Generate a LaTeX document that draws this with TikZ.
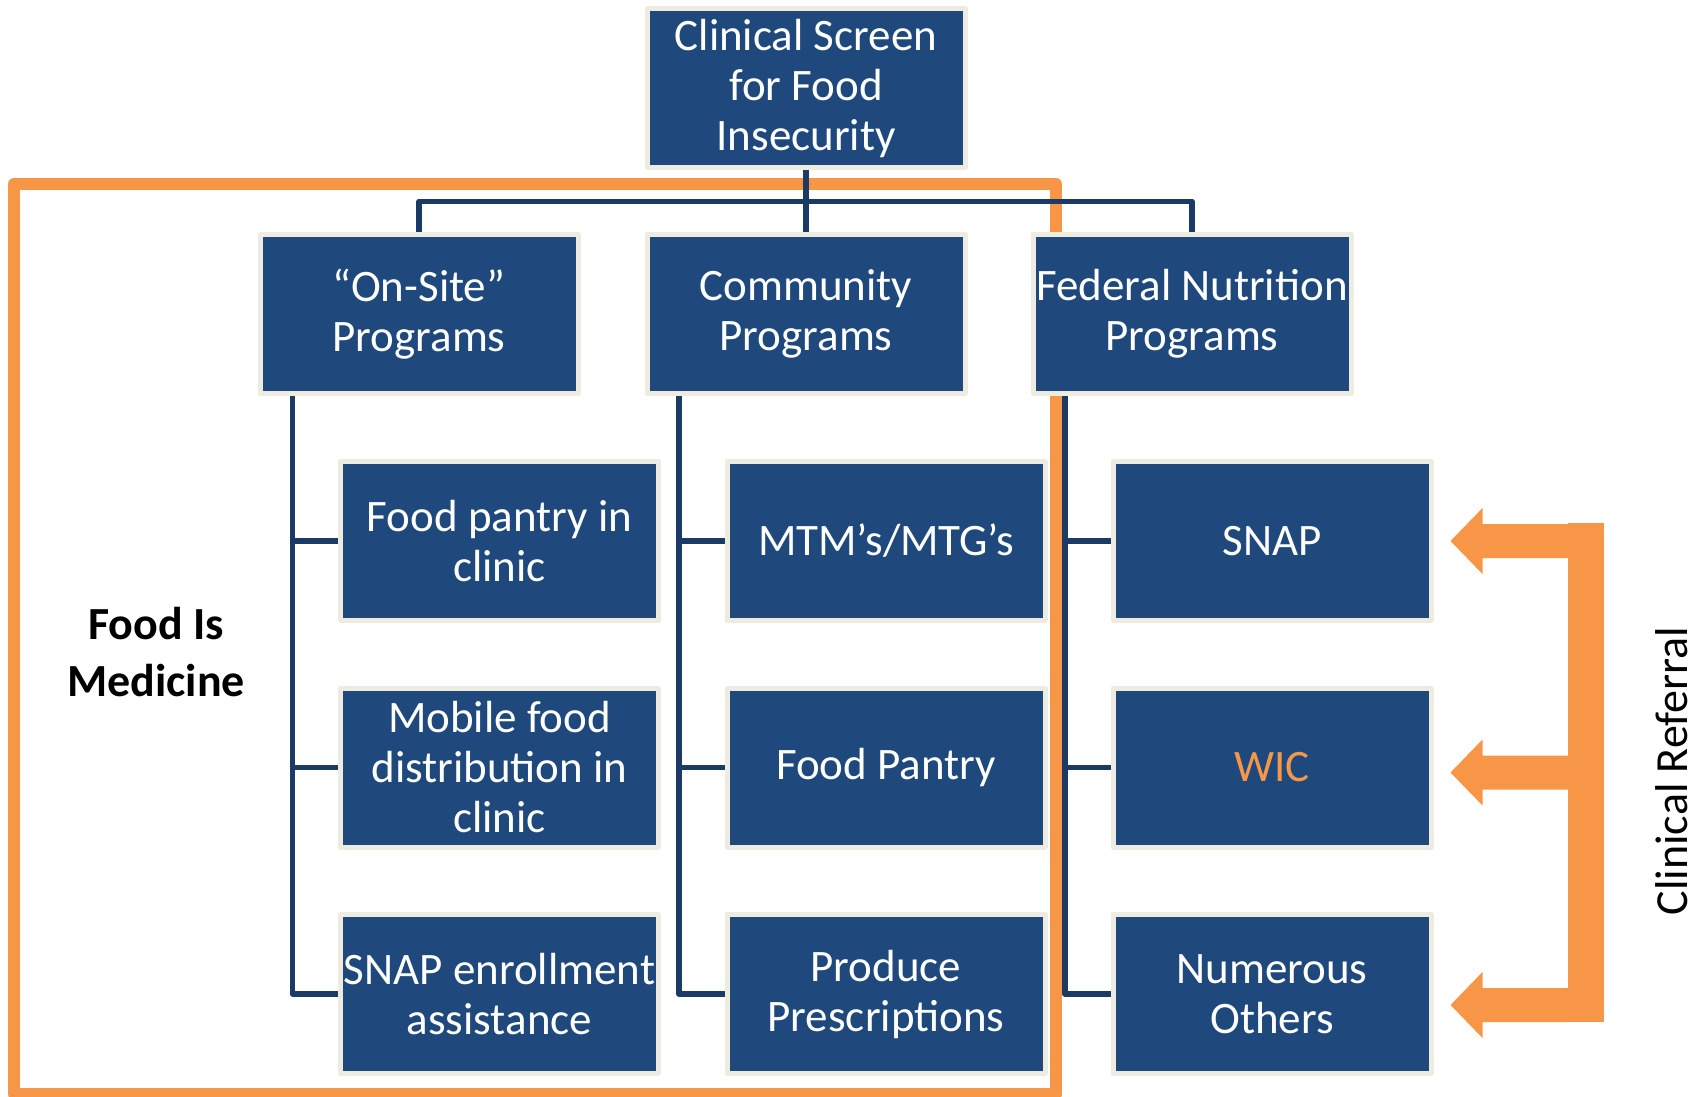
\documentclass[tikz,border=0pt]{standalone}
\usepackage{fontspec}
\setmainfont{Carlito}
\usetikzlibrary{calc}
\definecolor{boxblue}{HTML}{1F497D}
\definecolor{boxrim}{HTML}{EEECE1}
\definecolor{fimorange}{HTML}{F79646}
\definecolor{linkblue}{HTML}{1B3A66}
\pgfdeclarelayer{back}
\pgfsetlayers{back,main}
\tikzset{
  prog/.style={draw=boxrim, line width=5pt, fill=boxblue, text=white,
    minimum width=318pt, minimum height=159pt, inner sep=0pt, align=center,
    font=\fontsize{45}{50}\selectfont, line join=round},
  link/.style={draw=linkblue, line width=5.5pt, line join=round},
  fimframe/.style={draw=fimorange, line width=12pt, line join=round},
  refarrow/.style={fill=fimorange},
}
\begin{document}
\begin{tikzpicture}[x=1pt, y=-1pt]
\clip (0,0) rectangle (1694,1096);
\useasboundingbox (0,0) rectangle (1694,1096);

% screening and program groups
\node[prog] (screen) at (806,88) {Clinical Screen\\for Food\\Insecurity};
\node[prog] (onsite) at (419,314) {“On-Site”\\Programs};
\node[prog] (community) at (806,314) {Community\\Programs};
\node[prog] (federal) at (1192,314) {Federal Nutrition\\Programs};

% on-site programs
\node[prog] (pantryclinic) at (499.5,541) {Food pantry in\\clinic};
\node[prog] (mobile) at (499.5,767.5) {Mobile food\\distribution in\\clinic};
\node[prog] (enroll) at (499.5,994) {SNAP enrollment\\assistance};

% community programs
\node[prog] (mtm) at (886,541) {MTM’s/MTG’s};
\node[prog] (pantry) at (886,767.5) {Food Pantry};
\node[prog] (produce) at (886,994) {Produce\\Prescriptions};

% federal programs
\node[prog] (snap) at (1272,541) {SNAP};
\node[prog, text=fimorange] (wic) at (1272,767.5) {WIC};
\node[prog] (others) at (1272,994) {Numerous\\Others};

% labels
\node[font=\bfseries\fontsize{46}{57}\selectfont, align=center] (fim) at (156,652) {Food Is\\Medicine};
\node[rotate=90, anchor=base, inner sep=0pt, font=\fontsize{46}{50}\selectfont] (referral) at (1687,771) {Clinical Referral};

\begin{pgfonlayer}{back}
  % Food Is Medicine frame
  \draw[fimframe] (14,184) rectangle (1056,1094);
  % bus below the screen
  \coordinate (bus) at (806,201.5);
  \draw[link] (screen.south) -- (community.north);
  \draw[link] (onsite.north) -- (onsite.north |- bus) -- (federal.north |- bus) -- (federal.north);
  % branch lines
  \coordinate (v1) at ($(onsite.south)+(-126.5,0)$);
  \coordinate (v2) at ($(community.south)+(-127,0)$);
  \coordinate (v3) at ($(federal.south)+(-127,0)$);
  \draw[link] (v1) |- (enroll.west);
  \draw[link] (v1 |- pantryclinic.west) -- (pantryclinic.west);
  \draw[link] (v1 |- mobile.west) -- (mobile.west);
  \draw[link] (v2) |- (produce.west);
  \draw[link] (v2 |- mtm.west) -- (mtm.west);
  \draw[link] (v2 |- pantry.west) -- (pantry.west);
  \draw[link] (v3) |- (others.west);
  \draw[link] (v3 |- snap.west) -- (snap.west);
  \draw[link] (v3 |- wic.west) -- (wic.west);
\end{pgfonlayer}

% clinical referral bar and block arrows
\fill[refarrow] (1568,523) rectangle (1604,1022);
\coordinate (tipa) at ($(snap.east)+(17,0)$);
\coordinate (tipb) at ($(wic.east)+(17,5)$);
\coordinate (tipc) at ($(others.east)+(17,11)$);
\foreach \t in {tipa,tipb,tipc}
  \fill[refarrow] (\t) -- ++(32,-33) -- ++(0,16) -- ++(87,0) -- ++(0,34)
    -- ++(-87,0) -- ++(0,16) -- cycle;
\end{tikzpicture}
\end{document}
